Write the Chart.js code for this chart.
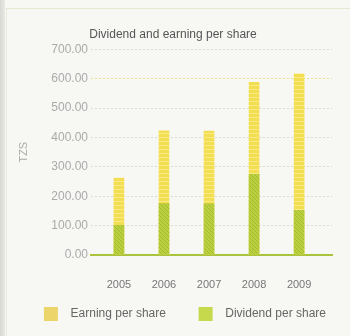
<!DOCTYPE html>
<html>
<head>
<meta charset="utf-8">
<script src="https://cdn.jsdelivr.net/npm/chart.js@4/dist/chart.umd.min.js"></script>
<style>
    html, body { margin: 0; padding: 0; }
    body {
        width: 350px;
        height: 336px;
        background: #f7f7f4;
        position: relative;
        overflow: hidden;
    }
    .edge {
        position: absolute;
        left: 0; top: 0; bottom: 0;
        width: 5px;
        background: linear-gradient(to right, #d9d9d3, #e9e9e4);
    }
    .frame {
        position: absolute;
        left: 6px; top: 8px; right: 0; bottom: 0;
        border-top: 1px solid #e6e8cf;
        border-left: 1px solid #e9eadb;
    }
    #wrap { position: absolute; left: 0; top: 0; width: 350px; height: 336px; }
</style>
</head>
<body>
<div class="edge"></div>
<div class="frame"></div>
<div id="wrap"><canvas id="eps-chart"></canvas></div>
<script>
var years = [2005, 2006, 2007, 2008, 2009];
var earningPerShare = [262, 423, 422, 588, 617];
var dividendPerShare = [101, 175, 174, 275, 152];
var yTicks = [0, 100, 200, 300, 400, 500, 600, 700];

var FONT = "'Liberation Sans', Arial, sans-serif";
var NBSP = '\u00a0';

function points(values) {
    return values.map(function (v, i) { return { x: years[i], y: v }; });
}

// small printed-looking fills for the bars
function makePattern(base, mark, kind) {
    var c = document.createElement('canvas');
    c.width = 4;
    c.height = 4;
    var g = c.getContext('2d');
    g.fillStyle = base;
    g.fillRect(0, 0, 4, 4);
    g.fillStyle = mark;
    if (kind === 'rows') {
        g.fillRect(0, 1, 4, 1);
    } else {
        g.fillRect(0, 0, 1, 1);
        g.fillRect(1, 1, 1, 1);
        g.fillRect(2, 2, 1, 1);
        g.fillRect(3, 3, 1, 1);
    }
    return g.createPattern(c, 'repeat');
}

document.addEventListener('DOMContentLoaded', function () {
    var canvasEl = document.getElementById('eps-chart');
    var yellowFill = makePattern('#f3de52', 'rgba(248,236,140,0.9)', 'rows');
    var greenFill = makePattern('#bbd03f', 'rgba(160,180,45,0.8)', 'diag');

    new Chart(canvasEl, {
        type: 'bar',
        data: {
            datasets: [{
                label: 'Dividend per share',
                data: points(dividendPerShare),
                backgroundColor: greenFill,
                order: 1
            }, {
                label: 'Earning per share',
                data: points(earningPerShare),
                backgroundColor: yellowFill,
                order: 2
            }]
        },
        options: {
            responsive: true,
            maintainAspectRatio: false,
            animation: false,
            grouped: false,
            barThickness: 10,
            layout: { padding: { left: 14, right: 18, top: 0, bottom: 5 } },
            plugins: {
                title: {
                    display: true,
                    text: 'Dividend and earning per share',
                    color: '#555',
                    font: { family: FONT, size: 12, weight: 'normal' },
                    padding: { top: 27, bottom: 8 }
                },
                legend: {
                    position: 'bottom',
                    align: 'end',
                    reverse: true,
                    labels: {
                        color: '#666',
                        font: { family: FONT, size: 12 },
                        boxWidth: 14,
                        boxHeight: 14,
                        padding: 6,
                        generateLabels: function (chart) {
                            var items = Chart.defaults.plugins.legend.labels.generateLabels(chart);
                            items.forEach(function (item) {
                                // extra room between box and text, and between the two entries
                                var gap = item.datasetIndex === 1 ? NBSP.repeat(8) : '';
                                item.text = NBSP + NBSP + item.text + gap;
                                item.fillStyle = item.datasetIndex === 1 ? '#ecd66c' : '#c6d94c';
                                item.strokeStyle = 'rgba(0,0,0,0)';
                                item.lineWidth = 0;
                            });
                            return items;
                        }
                    }
                },
                tooltip: { enabled: false }
            },
            scales: {
                x: {
                    type: 'linear',
                    offset: false,
                    min: 2004.38,
                    max: 2009.73,
                    afterBuildTicks: function (axis) {
                        axis.ticks = years.map(function (y) { return { value: y }; });
                    },
                    afterFit: function (axis) { axis.height = 46; },
                    ticks: {
                        color: '#777',
                        font: { family: FONT, size: 11 },
                        padding: 23,
                        callback: function (v) { return String(v); }
                    },
                    grid: { drawOnChartArea: false, drawTicks: false },
                    border: { display: true, color: '#a9c43c', width: 2 }
                },
                y: {
                    min: 0,
                    max: 700,
                    afterBuildTicks: function (axis) {
                        axis.ticks = yTicks.map(function (v) { return { value: v }; });
                    },
                    afterFit: function (axis) { axis.width = 77; },
                    title: {
                        display: true,
                        text: 'TZS',
                        color: '#aaa',
                        font: { family: FONT, size: 11 },
                        padding: { top: 3, bottom: 0 }
                    },
                    ticks: {
                        color: '#aaa',
                        font: { family: FONT, size: 12 },
                        padding: 3,
                        callback: function (v) { return v.toFixed(2); }
                    },
                    grid: {
                        drawTicks: false,
                        color: function (ctx) {
                            if (ctx.tick && ctx.tick.value === 0) return 'rgba(0,0,0,0)';
                            if (ctx.tick && ctx.tick.value === 600) return 'rgba(226,220,120,0.8)';
                            return '#d9dbcf';
                        },
                        borderDash: [2, 2]
                    },
                    border: { display: false, dash: [2, 2] }
                }
            }
        }
    });
});
</script>
</body>
</html>
